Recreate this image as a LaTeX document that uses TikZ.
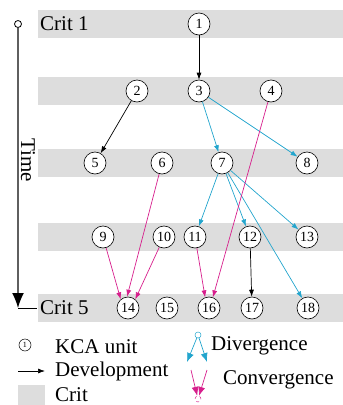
\documentclass[tikz,border=0pt]{standalone}
\usepackage{fontspec}
\setmainfont{Liberation Serif}
\usetikzlibrary{arrows.meta}
\usetikzlibrary{positioning}
\definecolor{divblue}{RGB}{35,165,205}
\definecolor{conpink}{RGB}{215,30,140}
\definecolor{critgray}{RGB}{221,221,221}
\definecolor{axisgray}{RGB}{95,95,95}

\tikzset{
  unit/.style={circle, draw, fill=white, line width=0.6pt, minimum size=22pt, inner sep=0pt, font=\fontsize{14}{14}\selectfont},
  lbl/.style={font=\fontsize{21}{24}\selectfont, inner sep=0pt, anchor=west},
  dev/.style={-{Latex[length=7pt,width=5pt]}, line width=0.7pt, black},
  div/.style={-{Latex[length=7pt,width=5pt]}, line width=0.7pt, divblue},
  con/.style={-{Latex[length=7pt,width=5pt]}, line width=0.7pt, conpink},
}

\begin{document}
\begin{tikzpicture}[x=1pt,y=-1pt]
				\useasboundingbox (0,0) rectangle (343,405);
				% draw crit bands
				\foreach \y in {24,91,163,237,308}
				\fill[critgray] (38,\y-14) rectangle (343,\y+14);
				\node[lbl] (crit1) at (40,24) {Crit 1};
				\node[lbl] (crit5) at (40,308) {Crit 5};
				% draw time axis
				\node[circle, draw, line width=0.8pt, minimum size=7pt, inner sep=0pt] (t0) at (18,24) {};
				\coordinate (t1) at (18,308);
				\draw[line width=1.5pt, axisgray, -{Latex[length=15pt,width=12pt,color=black]}] (t0) -- (t1);
				\draw[line width=0.8pt, shorten >=3pt] (t1) -- (crit5.west);
				\node[lbl, rotate=-90, anchor=center] (time) at (28,160) {Time};
				% draw KCA units
				\foreach \n/\x/\y in {1/199/24, 2/137/91, 3/199/91, 4/271/91,
					5/95/163, 6/162/163, 7/222/163, 8/307/163,
					9/103/237, 10/164/237, 11/195/237, 12/250/237, 13/307/237,
					14/128/308, 15/167/308, 16/209/308, 17/252/308, 18/308/308}
				\node[unit] (u\n) at (\x,\y) {\n};
				% development
				\draw[dev] (u1) -- (u3);
				\draw[dev] (u2) -- (u5);
				\draw[dev] (u12) -- (u17);
				% divergence
				\draw[div] (u3) -- (u7);
				\draw[div] (u3) -- (u8);
				\draw[div] (u7) -- (u11);
				\draw[div] (u7) -- (u12);
				\draw[div] (u7) -- (u13);
				\draw[div] (u7) -- (u18);
				% convergence
				\draw[con] (u4) -- (u16.70);
				\draw[con] (u11) -- (u16.110);
				\draw[con] (u6) -- (u14.95);
				\draw[con] (u9) -- (u14.130);
				\draw[con] (u10) -- (u14.50);
				% legend
				\node[circle, draw, line width=0.5pt, minimum size=12pt, inner sep=0pt, font=\fontsize{8}{8}\selectfont] (keyunit) at (25,345) {1};
				\node[lbl] (kcatext) at (55,347) {KCA unit};
				\coordinate (devA) at (18,371);
				\coordinate (devB) at (45,371);
				\draw[dev] (devA) -- (devB);
				\node[lbl] (devtext) at (55,371) {Development};
				\fill[critgray] (18,385) rectangle (45,405);
				\node[lbl] (crittext) at (55,395) {Crit};
				% divergence key
				\node[circle, draw=divblue, line width=0.5pt, minimum size=6pt, inner sep=0pt] (divtop) at (198,335) {};
				\coordinate (divL) at (187,362);
				\coordinate (divR) at (207,362);
				\draw[div, -{Latex[length=9pt,width=7pt]}] (divtop) -- (divL);
				\draw[div, -{Latex[length=9pt,width=7pt]}] (divtop) -- (divR);
				\node[lbl] (divtext) at (211,346) {Divergence};
				% convergence key
				\coordinate (conL) at (191,370);
				\coordinate (conR) at (207,370);
				\node[circle, draw=conpink, dashed, line width=0.5pt, minimum size=6pt, inner sep=0pt] (conbot) at (198,399) {};
				\draw[con, -{Latex[length=9pt,width=7pt]}] (conL) -- (conbot);
				\draw[con, -{Latex[length=9pt,width=7pt]}] (conR) -- (conbot);
				\node[lbl] (context) at (223,380) {Convergence};
			\end{tikzpicture}
\end{document}
